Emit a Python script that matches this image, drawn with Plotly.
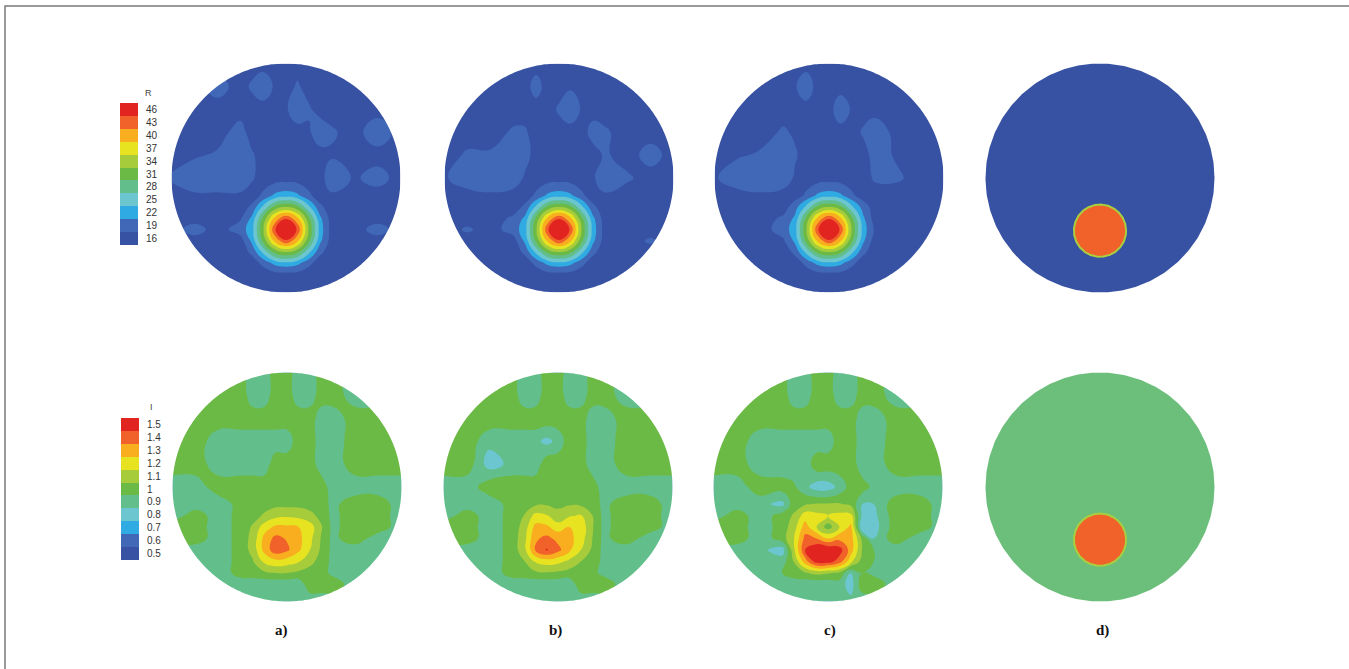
import numpy as np
import plotly.graph_objects as go

W, H = 1349, 669

# contour node coordinates in disc units (disc radius = 1); rows run top to bottom
node_x = [-1.0, -0.8, -0.6, -0.4, -0.3, -0.2, -0.1, 0.0, 0.1, 0.2, 0.3, 0.4, 0.6, 0.8, 1.0]
node_y = [1.0, 0.8, 0.6, 0.4, 0.2, 0.0, -0.15, -0.25, -0.35, -0.45, -0.55, -0.65, -0.75, -0.85, -1.0]

# legend levels (one colour box per level)
R_levels = [16, 19, 22, 25, 28, 31, 34, 37, 40, 43, 46]
R_labels = ["16", "19", "22", "25", "28", "31", "34", "37", "40", "43", "46"]
I_levels = [0.5, 0.6, 0.7, 0.8, 0.9, 1.0, 1.1, 1.2, 1.3, 1.4, 1.5]
I_labels = ["0.5", "0.6", "0.7", "0.8", "0.9", "1", "1.1", "1.2", "1.3", "1.4", "1.5"]
level_colors = ["#3852a3", "#4068b6", "#2faae2", "#6cc6cf", "#62bf8c", "#6cba46",
                "#a6cc3c", "#e8e320", "#f8ae1e", "#f1612a", "#e1241f"]

# reconstructed R fields
R_a = [
    [16, 16, 16, 16, 16, 16, 16, 16, 16, 16, 16, 16, 16, 16, 16],
    [16, 16, 19, 16, 18, 20, 17, 16, 18, 16, 16, 16, 16, 16, 16],
    [16, 16, 16, 16, 16, 16, 16, 17, 20, 18, 16, 16, 16, 16, 16],
    [16, 16, 16, 19, 16, 16, 16, 16, 16, 17, 20, 18, 16, 20, 16],
    [16, 17, 18, 20, 18, 16, 16, 16, 16, 16, 16, 17, 16, 16, 16],
    [18, 20, 20, 20, 18, 16, 16, 16, 16, 16, 16, 20, 17, 19, 16],
    [16, 17, 17, 17, 16, 18, 21, 22, 21, 18, 16, 17, 16, 16, 16],
    [16, 16, 16, 16, 18, 24, 30, 32, 30, 24, 18, 16, 16, 16, 16],
    [16, 16, 16, 17, 21, 30, 39, 44, 39, 30, 21, 16, 16, 16, 16],
    [16, 19, 16, 19, 22, 32, 44, 50, 44, 32, 22, 16, 16, 19, 16],
    [16, 16, 16, 16, 21, 30, 39, 44, 39, 30, 21, 16, 16, 16, 16],
    [16, 16, 16, 16, 18, 24, 30, 32, 30, 24, 18, 16, 16, 16, 16],
    [16, 16, 16, 16, 16, 18, 21, 22, 21, 18, 16, 16, 16, 16, 16],
    [16, 16, 16, 16, 16, 16, 16, 16, 16, 16, 16, 16, 16, 16, 16],
    [16, 16, 16, 16, 16, 16, 16, 16, 16, 16, 16, 16, 16, 16, 16],
]
R_b = [
    [16, 16, 16, 16, 16, 16, 16, 16, 16, 16, 16, 16, 16, 16, 16],
    [16, 16, 16, 16, 16, 19, 16, 16, 17, 16, 16, 16, 16, 16, 16],
    [16, 16, 16, 16, 16, 16, 16, 18, 20, 17, 16, 16, 16, 16, 16],
    [16, 16, 16, 18, 18, 16, 16, 16, 16, 16, 19, 18, 16, 16, 16],
    [16, 18, 18, 20, 19, 16, 16, 16, 16, 16, 16, 18, 16, 19, 16],
    [17, 20, 20, 20, 17, 16, 16, 16, 16, 16, 17, 20, 18, 16, 16],
    [16, 16, 17, 16, 16, 18, 21, 22, 21, 18, 16, 17, 16, 16, 16],
    [16, 16, 16, 16, 18, 24, 30, 32, 30, 24, 18, 16, 16, 16, 16],
    [16, 16, 16, 18, 21, 30, 39, 44, 39, 30, 21, 16, 16, 16, 16],
    [16, 18, 16, 19, 22, 32, 44, 50, 44, 32, 22, 16, 16, 16, 16],
    [16, 16, 16, 16, 21, 30, 39, 44, 39, 30, 21, 16, 16, 18, 16],
    [16, 16, 16, 16, 18, 24, 30, 32, 30, 24, 18, 16, 16, 16, 16],
    [16, 16, 16, 16, 16, 18, 21, 22, 21, 18, 16, 16, 16, 16, 16],
    [16, 16, 16, 16, 16, 16, 16, 16, 16, 16, 16, 16, 16, 16, 16],
    [16, 16, 16, 16, 16, 16, 16, 16, 16, 16, 16, 16, 16, 16, 16],
]
R_c = [
    [16, 16, 16, 16, 16, 16, 16, 16, 16, 16, 16, 16, 16, 16, 16],
    [16, 16, 16, 16, 17, 20, 16, 16, 16, 17, 16, 16, 16, 16, 16],
    [16, 16, 16, 16, 16, 16, 16, 16, 20, 17, 16, 16, 16, 16, 16],
    [16, 16, 16, 18, 17, 16, 16, 16, 16, 16, 18, 20, 16, 16, 16],
    [16, 17, 18, 20, 18, 16, 16, 16, 16, 16, 16, 19, 17, 16, 16],
    [17, 20, 20, 20, 17, 16, 16, 16, 16, 16, 16, 18, 18, 16, 16],
    [16, 16, 17, 16, 16, 18, 21, 22, 21, 18, 16, 16, 16, 16, 16],
    [16, 16, 16, 16, 19, 24, 30, 32, 30, 24, 19, 16, 16, 16, 16],
    [16, 16, 16, 18, 21, 30, 39, 44, 39, 30, 21, 16, 16, 16, 16],
    [16, 16, 16, 19, 22, 32, 44, 50, 44, 32, 22, 17, 16, 16, 16],
    [16, 16, 16, 17, 21, 30, 39, 44, 39, 30, 21, 16, 16, 16, 16],
    [16, 16, 16, 16, 18, 24, 30, 32, 30, 24, 18, 16, 16, 16, 16],
    [16, 16, 16, 16, 16, 18, 21, 22, 21, 18, 16, 16, 16, 16, 16],
    [16, 16, 16, 16, 16, 16, 16, 16, 16, 16, 16, 16, 16, 16, 16],
    [16, 16, 16, 16, 16, 16, 16, 16, 16, 16, 16, 16, 16, 16, 16],
]

# reconstructed I fields
I_a = [
    [1.02, 1.02, 1.02, 1.02, 0.88, 0.88, 1.02, 1.02, 0.88, 0.88, 1.02, 1.02, 0.88, 0.88, 0.88],
    [1.02, 1.02, 1.02, 1.02, 0.88, 0.88, 1.02, 1.02, 0.88, 0.88, 1.02, 1.02, 0.88, 0.88, 0.88],
    [1.02, 1.02, 1.02, 1.02, 1.02, 1.02, 1.02, 1.02, 1.02, 1.02, 0.88, 0.88, 1.02, 1.02, 1.02],
    [1.02, 1.02, 0.88, 0.88, 0.88, 0.88, 0.88, 0.88, 1.02, 1.02, 0.88, 0.88, 1.02, 1.02, 1.02],
    [1.02, 1.02, 0.88, 0.88, 0.88, 0.88, 1.02, 1.02, 1.02, 1.02, 0.88, 0.88, 1.02, 1.02, 1.02],
    [0.88, 0.88, 1.02, 1.02, 1.02, 1.02, 1.02, 1.02, 1.02, 1.02, 1.02, 0.88, 0.88, 0.88, 0.88],
    [0.88, 0.88, 0.88, 1.00, 1.01, 1.02, 1.02, 1.02, 1.02, 1.01, 1.00, 0.92, 1.02, 1.02, 0.88],
    [0.88, 1.02, 0.88, 1.00, 1.02, 1.06, 1.12, 1.13, 1.12, 1.08, 1.02, 0.92, 1.02, 1.02, 0.88],
    [1.02, 1.02, 0.88, 1.00, 1.06, 1.20, 1.27, 1.27, 1.25, 1.20, 1.06, 0.92, 1.02, 1.02, 0.88],
    [1.02, 1.02, 0.88, 1.00, 1.08, 1.28, 1.38, 1.34, 1.28, 1.18, 1.04, 0.92, 1.02, 0.88, 0.88],
    [0.88, 0.88, 0.88, 1.00, 1.08, 1.28, 1.41, 1.37, 1.27, 1.15, 1.03, 0.92, 0.88, 0.88, 0.88],
    [0.88, 0.88, 0.88, 1.00, 1.04, 1.17, 1.22, 1.20, 1.16, 1.08, 1.01, 0.92, 0.88, 0.88, 0.88],
    [0.88, 0.88, 0.88, 1.00, 1.01, 1.03, 1.05, 1.05, 1.03, 1.01, 1.00, 0.92, 0.88, 0.88, 0.88],
    [0.88, 0.88, 0.88, 0.88, 0.88, 0.88, 0.88, 0.88, 0.88, 1.02, 1.02, 1.02, 0.88, 0.88, 0.88],
    [0.88, 0.88, 0.88, 0.88, 0.88, 0.88, 0.88, 0.88, 0.88, 0.88, 0.88, 0.88, 0.88, 0.88, 0.88],
]
I_b = [
    [1.02, 1.02, 1.02, 1.02, 0.88, 0.88, 1.02, 1.02, 0.88, 0.88, 1.02, 1.02, 0.88, 0.88, 0.88],
    [1.02, 1.02, 1.02, 1.02, 0.88, 0.88, 1.02, 1.02, 0.88, 0.88, 1.02, 1.02, 0.88, 0.88, 0.88],
    [1.02, 1.02, 1.02, 1.02, 1.02, 1.02, 1.02, 1.02, 1.02, 1.02, 0.88, 0.88, 1.02, 1.02, 1.02],
    [1.02, 1.02, 0.88, 0.88, 0.88, 0.88, 0.82, 0.88, 1.02, 1.02, 0.88, 0.88, 1.02, 1.02, 1.02],
    [1.02, 1.02, 0.80, 0.88, 0.88, 0.88, 1.02, 1.02, 1.02, 1.02, 0.88, 0.88, 1.02, 1.02, 1.02],
    [0.88, 0.88, 1.02, 1.02, 1.02, 1.02, 1.02, 1.02, 1.02, 1.02, 1.02, 0.88, 0.88, 0.88, 0.88],
    [0.88, 0.88, 0.88, 1.00, 1.01, 1.03, 1.04, 1.03, 1.04, 1.03, 1.01, 0.92, 1.02, 1.02, 0.88],
    [0.88, 1.02, 0.88, 1.00, 1.05, 1.18, 1.16, 1.08, 1.14, 1.16, 1.05, 0.92, 1.02, 1.02, 0.88],
    [1.02, 1.02, 0.88, 1.00, 1.08, 1.28, 1.27, 1.20, 1.25, 1.22, 1.06, 0.92, 1.02, 1.02, 0.88],
    [1.02, 1.02, 0.88, 1.00, 1.10, 1.33, 1.38, 1.32, 1.28, 1.20, 1.05, 0.92, 1.02, 0.88, 0.88],
    [0.88, 0.88, 0.88, 1.00, 1.10, 1.35, 1.46, 1.38, 1.27, 1.15, 1.03, 0.92, 0.88, 0.88, 0.88],
    [0.88, 0.88, 0.88, 1.00, 1.04, 1.16, 1.20, 1.18, 1.12, 1.05, 1.01, 0.92, 0.88, 0.88, 0.88],
    [0.88, 0.88, 0.88, 1.00, 1.01, 1.03, 1.04, 1.03, 1.01, 1.00, 0.98, 0.92, 0.88, 0.88, 0.88],
    [0.88, 0.88, 0.88, 0.88, 0.88, 0.88, 0.88, 0.88, 0.88, 1.02, 1.02, 1.02, 0.88, 0.88, 0.88],
    [0.88, 0.88, 0.88, 0.88, 0.88, 0.88, 0.88, 0.88, 0.88, 0.88, 0.88, 0.88, 0.88, 0.88, 0.88],
]
I_c = [
    [1.02, 1.02, 1.02, 1.02, 0.88, 0.88, 1.02, 1.02, 0.88, 0.88, 1.02, 1.02, 0.88, 0.88, 0.88],
    [1.02, 1.02, 1.02, 1.02, 0.88, 0.88, 1.02, 1.02, 0.88, 0.88, 1.02, 1.02, 0.88, 0.88, 0.88],
    [1.02, 1.02, 1.02, 1.02, 1.02, 1.02, 1.02, 1.02, 1.02, 1.02, 0.88, 0.88, 1.02, 1.02, 1.02],
    [1.02, 1.02, 0.88, 0.88, 0.88, 0.88, 0.88, 0.88, 1.02, 1.02, 0.88, 0.88, 1.02, 1.02, 1.02],
    [1.02, 1.02, 0.88, 0.88, 0.88, 0.88, 1.02, 1.02, 1.02, 1.02, 0.88, 0.88, 1.02, 1.02, 1.02],
    [0.88, 0.88, 1.02, 1.00, 0.97, 0.88, 0.80, 0.80, 0.88, 1.00, 1.00, 0.92, 0.88, 0.88, 0.88],
    [0.88, 0.88, 0.88, 0.82, 1.01, 1.04, 1.06, 1.06, 1.06, 1.03, 0.85, 0.85, 1.02, 1.02, 0.88],
    [0.88, 1.02, 0.88, 1.00, 1.06, 1.20, 1.18, 1.15, 1.18, 1.18, 0.82, 0.82, 1.02, 1.02, 0.88],
    [1.02, 1.02, 0.88, 1.00, 1.10, 1.30, 1.15, 1.00, 1.15, 1.28, 0.75, 0.80, 1.02, 1.02, 0.88],
    [1.02, 1.02, 0.88, 1.00, 1.14, 1.38, 1.35, 1.25, 1.32, 1.30, 1.02, 0.85, 1.02, 0.88, 0.88],
    [0.88, 0.88, 0.88, 0.80, 1.12, 1.45, 1.55, 1.55, 1.50, 1.30, 1.04, 0.95, 0.88, 0.88, 0.88],
    [0.88, 0.88, 0.88, 0.90, 1.05, 1.30, 1.50, 1.50, 1.40, 1.18, 1.00, 0.95, 0.88, 0.88, 0.88],
    [0.88, 0.88, 0.88, 0.95, 1.01, 1.04, 1.08, 1.06, 1.03, 0.85, 0.95, 0.92, 0.88, 0.88, 0.88],
    [0.88, 0.88, 0.88, 0.88, 0.88, 0.88, 0.88, 0.88, 0.90, 0.80, 1.02, 1.02, 0.88, 0.88, 0.88],
    [0.88, 0.88, 0.88, 0.88, 0.88, 0.88, 0.88, 0.88, 0.88, 0.88, 0.88, 0.88, 0.88, 0.88, 0.88],
]

# reference distribution (column d): circular inclusion in a uniform disc
true_center = [0.0, -0.46]
true_radius = 0.228
true_R = [16, 43]           # background, inclusion
true_I = [0.95, 1.4]
true_I_background_color = "#6cbe7b"

panel_labels = ["a)", "b)", "c)", "d)"]

# disc placement in pixels (centre x, centre y, radius)
disc_cx_top = [286, 559, 829, 1100]
disc_cx_bottom = [287, 558, 828, 1100]
disc_cy = [178, 487]
disc_r = 114.5
label_x = [281, 555, 830, 1102]
label_y = 630

AX = 1.06  # axis half-range around the unit disc


def stepped_scale(colors):
    n = len(colors) - 1
    scale = []
    for k, c in enumerate(colors):
        lo = max(0.0, (k - 0.5) / n)
        hi = min(1.0, (k + 0.5) / n)
        scale.append([lo, c])
        scale.append([hi, c])
    return scale


cscale = stepped_scale(level_colors)

fig = go.Figure()
shapes = []
annotations = []

theta = np.linspace(0, 2 * np.pi, 361)
circle_pts = " L ".join(f"{np.cos(t):.4f},{np.sin(t):.4f}" for t in theta)
M = AX + 0.05
mask_path = f"M {-M},{-M} L {M},{-M} L {M},{M} L {-M},{M} Z M {circle_pts} Z"

fields = [[R_a, R_b, R_c], [I_a, I_b, I_c]]
levels = [R_levels, I_levels]
layout_axes = {}

idx = 0
for row in range(2):
    lev = levels[row]
    step = lev[1] - lev[0]
    cxs = disc_cx_top if row == 0 else disc_cx_bottom
    cy = disc_cy[row]
    half = disc_r * AX
    for col in range(4):
        idx += 1
        xa = f"x{idx}" if idx > 1 else "x"
        ya = f"y{idx}" if idx > 1 else "y"
        cx = cxs[col]
        layout_axes[f"xaxis{idx}"] = dict(
            domain=[(cx - half) / W, (cx + half) / W], range=[-AX, AX],
            visible=False, fixedrange=True, anchor=ya)
        layout_axes[f"yaxis{idx}"] = dict(
            domain=[1 - (cy + half) / H, 1 - (cy - half) / H], range=[-AX, AX],
            visible=False, fixedrange=True, anchor=xa)
        if col < 3:
            z = fields[row][col]
            fig.add_trace(go.Contour(
                x=node_x, y=node_y[::-1], z=z[::-1],
                xaxis=xa, yaxis=ya,
                colorscale=cscale, showscale=False,
                contours=dict(start=lev[0] + step / 2, end=lev[-1] - step / 2,
                              size=step, coloring="fill", showlines=False),
                line=dict(width=0, smoothing=1.3),
                hoverinfo="skip"))
            shapes.append(dict(type="path", path=mask_path, xref=xa, yref=ya,
                               fillcolor="white", fillrule="evenodd",
                               line=dict(width=0), layer="above"))
        else:
            ring_t = np.linspace(0, 2 * np.pi, 361)
            if row == 0:
                bg = level_colors[R_levels.index(true_R[0])]
                inc = level_colors[R_levels.index(true_R[1])]
            else:
                bg = true_I_background_color
                inc = level_colors[I_levels.index(true_I[1])]
            fig.add_trace(go.Scatter(
                x=np.cos(ring_t), y=np.sin(ring_t), xaxis=xa, yaxis=ya,
                mode="lines", fill="toself", fillcolor=bg,
                line=dict(width=0, color=bg), hoverinfo="skip", showlegend=False))
            fig.add_trace(go.Scatter(
                x=true_center[0] + true_radius * np.cos(ring_t),
                y=true_center[1] + true_radius * np.sin(ring_t),
                xaxis=xa, yaxis=ya, mode="lines", fill="toself", fillcolor=inc,
                line=dict(width=2, color="#a9cf3f"), hoverinfo="skip",
                showlegend=False))

# colour legends
legend_boxes = [(120, 138, 103, 245), (121, 139, 418, 560)]
legend_titles = ["R", "I"]
legend_title_pos = [(148, 93), (151, 407)]
legend_ticktext = [R_labels, I_labels]
for k in range(2):
    idx += 1
    x0, x1, y0, y1 = legend_boxes[k]
    xa, ya = f"x{idx}", f"y{idx}"
    n = len(levels[k])
    layout_axes[f"xaxis{idx}"] = dict(domain=[x0 / W, x1 / W], range=[-0.5, 0.5],
                                      visible=False, fixedrange=True, anchor=ya)
    layout_axes[f"yaxis{idx}"] = dict(
        domain=[1 - y1 / H, 1 - y0 / H], range=[-0.5, n - 0.5], fixedrange=True,
        anchor=xa, side="right", showgrid=False, zeroline=False, showline=False,
        tickmode="array", tickvals=list(range(n)), ticktext=legend_ticktext[k],
        ticks="outside", ticklen=5, tickcolor="rgba(0,0,0,0)",
        tickfont=dict(family="Liberation Sans", size=10, color="#333333"))
    fig.add_trace(go.Heatmap(
        z=[[v] for v in levels[k]], x=[0], y=list(range(n)),
        xaxis=xa, yaxis=ya, colorscale=cscale,
        zmin=levels[k][0], zmax=levels[k][-1], showscale=False, hoverinfo="skip"))
    tx, ty = legend_title_pos[k]
    annotations.append(dict(text=legend_titles[k], x=tx / W, y=1 - ty / H,
                            xref="paper", yref="paper", showarrow=False,
                            xanchor="center", yanchor="middle",
                            font=dict(family="Liberation Sans", size=9, color="#444444")))

for col in range(4):
    annotations.append(dict(text=f"<b>{panel_labels[col]}</b>", x=label_x[col] / W,
                            y=1 - label_y / H, xref="paper", yref="paper",
                            showarrow=False, xanchor="center", yanchor="middle",
                            font=dict(family="Liberation Serif", size=15, color="#111111")))

# page frame (top and left edges visible)
shapes.append(dict(type="rect", xref="paper", yref="paper",
                   x0=5 / W, x1=1.02, y0=-0.02, y1=1 - 6 / H,
                   line=dict(color="#7a7a7a", width=1.5), fillcolor="rgba(0,0,0,0)",
                   layer="below"))

fig.update_layout(
    width=W, height=H, margin=dict(l=0, r=0, t=0, b=0),
    paper_bgcolor="white", plot_bgcolor="white",
    showlegend=False, shapes=shapes, annotations=annotations, **layout_axes)

fig.write_html("out.html", include_plotlyjs=True, full_html=True,
               config={"displayModeBar": False})
